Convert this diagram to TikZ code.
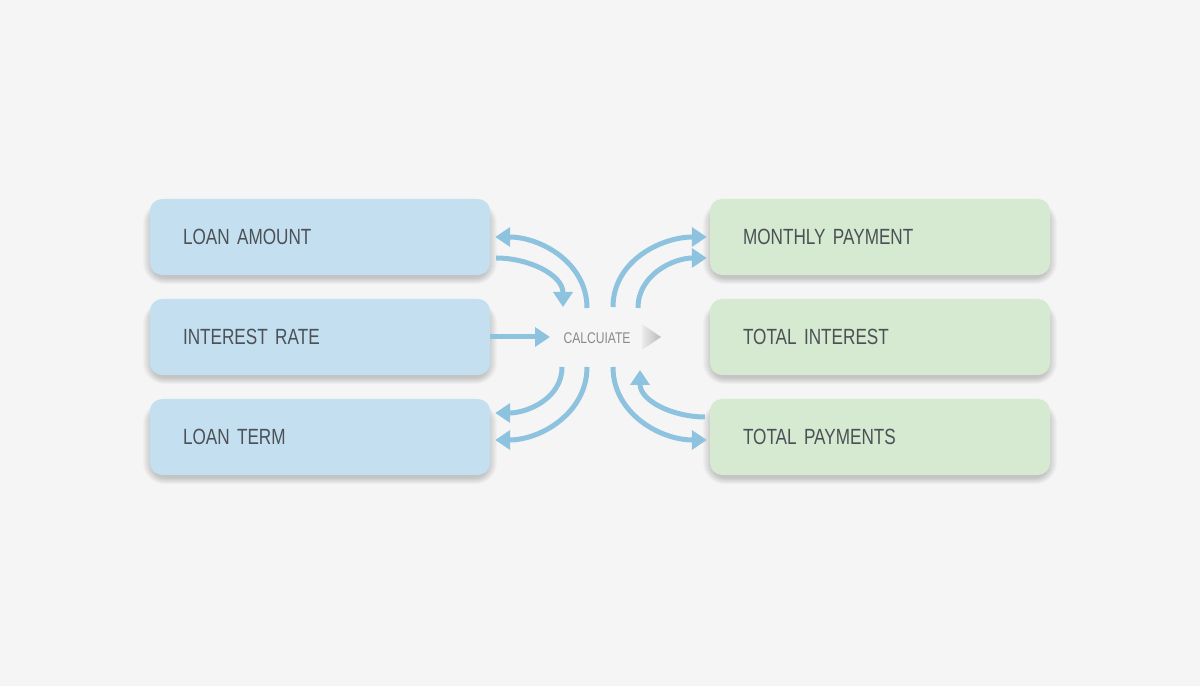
\documentclass[tikz,border=0pt]{standalone}
\usepackage{fontspec}
\setmainfont{Liberation Sans}[FakeStretch=0.78]
\usetikzlibrary{arrows.meta,calc}
\definecolor{bgc}{HTML}{F5F5F5}
\definecolor{bluebox}{HTML}{C4E0F0}
\definecolor{greenbox}{HTML}{D5EAD0}
\definecolor{txt}{HTML}{4B5156}
\definecolor{arrowc}{HTML}{8EC3E0}
\definecolor{calc}{HTML}{8A8A8A}
\pgfdeclarelayer{back}
\pgfsetlayers{back,main}
\newcommand{\bxfont}{\fontsize{22}{24}\selectfont\fontdimen2\font=4.2pt\relax}
\tikzset{
  box/.style={rounded corners=12pt, minimum width=340pt, minimum height=76pt,
    text width=274pt, align=left, inner xsep=33pt, inner ysep=0pt,
    font=\bxfont, text=txt},
  inbox/.style={box, fill=bluebox},
  outbox/.style={box, fill=greenbox},
  conn/.style={draw=arrowc, line width=5pt, -{Triangle[length=15pt,width=19pt]}},
  shadowlayer/.style={fill=black, fill opacity=0.018, draw=none},
}
\newcommand{\boxshadow}[1]{%
  \foreach \s in {1,2,...,10}{%
    \pgfmathsetmacro{\rr}{12+\s}%
    \pgfmathsetmacro{\dx}{\s-3}%
    \pgfmathsetmacro{\dyl}{-2-0.7*\s}%
    \pgfmathsetmacro{\dyu}{-8+0.5*\s}%
    \fill[shadowlayer, rounded corners=\rr pt]
      ($(#1.south west)+(-\dx,\dyl)$) rectangle
      ($(#1.north east)+(\dx,\dyu)$);
  }%
}
\begin{document}
\begin{tikzpicture}[x=1pt,y=1pt]
\node[inbox] (loan) at (320,449) {LOAN AMOUNT};
\node[inbox] (rate) at (320,349) {INTEREST RATE};
\node[inbox] (term) at (320,249) {LOAN TERM};
\node[outbox] (monthly) at (880,449) {MONTHLY PAYMENT};
\node[outbox] (interest) at (880,349) {TOTAL INTEREST};
\node[outbox] (payments) at (880,249) {TOTAL PAYMENTS};
\begin{pgfonlayer}{back}
\fill[bgc] (0,0) rectangle (1200,686);
\boxshadow{loan}\boxshadow{rate}\boxshadow{term}
\boxshadow{monthly}\boxshadow{interest}\boxshadow{payments}
\end{pgfonlayer}
\useasboundingbox (0,0) rectangle (1200,686);
\node[font=\fontsize{15.5}{17}\selectfont, text=calc, inner sep=0pt] (calcnode) at (597,348) {CALCUIATE};
\shade[left color=gray!15, right color=gray!55, draw=none] (642,362) -- (661,349) -- (642,336) -- cycle;
\coordinate (c1) at (587,378);
\coordinate (c2) at (563,379);
\coordinate (c3) at (550,349);
\coordinate (c4) at (613,379);
\coordinate (c5) at (638,378);
\coordinate (c6) at (562,319);
\coordinate (c7) at (587,319);
\coordinate (c8) at (613,319);
\coordinate (c9) at (640,316);
\draw[conn] (c1) to[out=90,in=0] ([xshift=5pt]loan.east);
\draw[conn] ([xshift=6pt,yshift=-21pt]loan.east) to[out=0,in=90] (c2);
\draw[conn] (rate.east) -- (c3);
\draw[conn] (c4) to[out=90,in=180] ([xshift=-3pt]monthly.west);
\draw[conn] (c5) to[out=90,in=180] ([xshift=-3pt,yshift=-21pt]monthly.west);
\draw[conn] (c6) to[out=-90,in=0] ([xshift=5pt,yshift=24pt]term.east);
\draw[conn] (c7) to[out=-90,in=0] ([xshift=5pt,yshift=-3pt]term.east);
\draw[conn] (c8) to[out=-90,in=180] ([xshift=-3pt,yshift=-3pt]payments.west);
\draw[conn] ([xshift=-5pt,yshift=20pt]payments.west) to[out=180,in=-90] (c9);
\end{tikzpicture}
\end{document}
